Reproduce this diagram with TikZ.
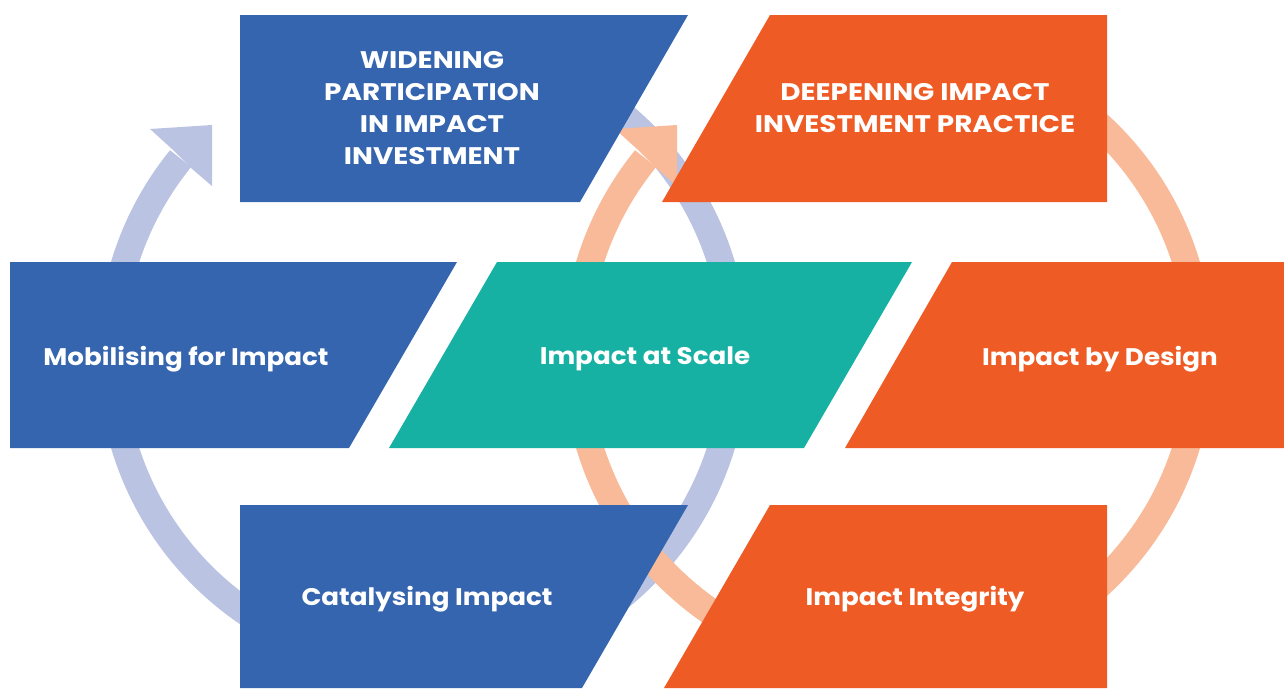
\documentclass[tikz,border=0pt]{standalone}
\usepackage{fontspec}
\setmainfont{Poppins}[FakeStretch=1.09]
\newfontfamily\capsfont{Poppins}[FakeStretch=1.16]
\definecolor{boxblue}{HTML}{3565AE}
\definecolor{boxorange}{HTML}{EE5B25}
\definecolor{boxteal}{HTML}{17B1A3}
\definecolor{ringblue}{HTML}{BAC3E2}
\definecolor{ringorange}{HTML}{F8BA98}
\tikzset{
  lbl/.style={text=white,font=\bfseries\fontsize{24}{32}\selectfont,align=center,inner sep=0pt},
  caplbl/.style={lbl,font=\capsfont\bfseries\fontsize{24}{32}\selectfont},
  ring/.style={line width=27pt,line cap=butt},
}
\begin{document}
\begin{tikzpicture}[x=1pt,y=1pt]
\useasboundingbox (0,0) rectangle (1284,-688);
% rings
\coordinate (cb) at (423,-355);
\coordinate (co) at (888,-355);
\draw[ring,ringblue] ([shift={(141:312)}]cb) arc[start angle=141,end angle=461,radius=312];
\fill[ringblue] (150,-129) -- (212,-125) -- (212,-186) -- (191,-168) -- (172,-149) -- cycle;
\draw[ring,ringorange] ([shift={(141:312)}]co) arc[start angle=141,end angle=461,radius=312];
\fill[ringorange] (615,-129) -- (677,-125) -- (677,-186) -- (656,-168) -- (637,-149) -- cycle;
% boxes
\fill[boxblue] (240,-15) -- (688,-15) -- (580,-202) -- (240,-202) -- cycle;
\fill[boxorange] (770,-15) -- (1107,-15) -- (1107,-202) -- (662,-202) -- cycle;
\fill[boxblue] (10,-262) -- (457,-262) -- (349,-448) -- (10,-448) -- cycle;
\fill[boxteal] (497,-262) -- (912,-262) -- (804,-448) -- (389,-448) -- cycle;
\fill[boxorange] (952,-262) -- (1284,-262) -- (1284,-448) -- (845,-448) -- cycle;
\fill[boxblue] (240,-505) -- (688,-505) -- (582,-688) -- (240,-688) -- cycle;
\fill[boxorange] (770,-505) -- (1107,-505) -- (1107,-688) -- (664,-688) -- cycle;
% labels
\node[caplbl] (wid) at (432,-108) {WIDENING\\PARTICIPATION\\IN IMPACT\\INVESTMENT};
\node[caplbl] (deep) at (915,-108) {DEEPENING IMPACT\\INVESTMENT PRACTICE};
\node[lbl] (mob) at (186,-359) {Mobilising for Impact};
\node[lbl] (scale) at (645,-359) {Impact at Scale};
\node[lbl] (design) at (1100,-359) {Impact by Design};
\node[lbl] (cat) at (427,-599) {Catalysing Impact};
\node[lbl] (integ) at (915,-599) {Impact Integrity};
\end{tikzpicture}
\end{document}
